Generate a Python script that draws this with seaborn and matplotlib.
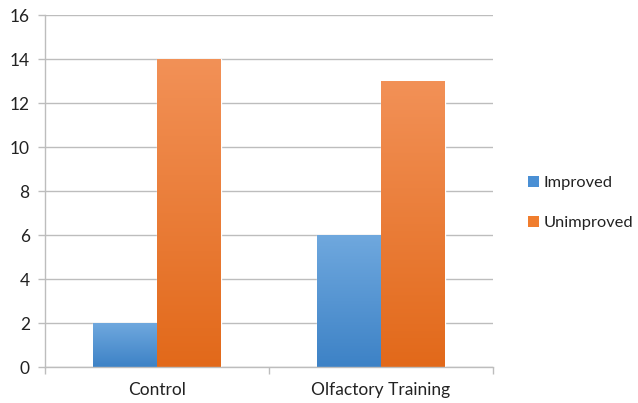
import numpy as np
import pandas as pd
import matplotlib
matplotlib.use("Agg")
import matplotlib.pyplot as plt
from matplotlib.patches import Patch
from matplotlib.colors import LinearSegmentedColormap
import seaborn as sns

categories = ["Control", "Olfactory Training"]
series = ["Improved", "Unimproved"]
improved = [2, 6]
unimproved = [14, 13]
y_ticks = [0, 2, 4, 6, 8, 10, 12, 14, 16]

colors = {"Improved": "#4A8FD4", "Unimproved": "#F07D2E"}
grad = {
    "Improved": ("#3D82C6", "#6FA8DE"),     # bottom, top
    "Unimproved": ("#E2691A", "#F29157"),
}

df = pd.DataFrame({
    "group": categories * 2,
    "status": [series[0]] * 2 + [series[1]] * 2,
    "count": improved + unimproved,
})

sns.set_theme(style="white")
plt.rcParams["font.family"] = ["Lato", "DejaVu Sans"]

fig = plt.figure(figsize=(6.38, 4.03), dpi=100)
ax = fig.add_axes([45 / 638, 1 - 367 / 403, (493 - 45) / 638, (367 - 15) / 403])

sns.barplot(data=df, x="group", y="count", hue="status", order=categories,
            hue_order=series, palette=colors, width=0.57, ax=ax,
            legend=False, errorbar=None, saturation=1)

ax.set_xlim(-0.5, 1.5)
ax.set_ylim(0, 16)

# vertical gradient fill inside each bar
bar_patches = [p for p in ax.patches if p.get_height() > 0]
for p in bar_patches:
    x0, w, h = p.get_x(), p.get_width(), p.get_height()
    fc = p.get_facecolor()
    key = min(series, key=lambda s: np.sum((np.array(matplotlib.colors.to_rgba(colors[s])) - np.array(fc)) ** 2))
    cmap = LinearSegmentedColormap.from_list(key, list(grad[key]))
    img = np.linspace(0, 1, 256).reshape(-1, 1)
    im = ax.imshow(img, cmap=cmap, origin="lower", aspect="auto",
                   extent=(x0, x0 + w, 0, h), zorder=p.get_zorder() + 0.1)
    im.set_clip_path(p)
ax.set_xlim(-0.5, 1.5)
ax.set_ylim(0, 16)

grid_c = "#BDBDBD"
ax.set_yticks(y_ticks)
ax.yaxis.grid(True, color=grid_c, linewidth=1.0)
ax.xaxis.grid(False)
ax.set_axisbelow(True)

for side in ["top", "right"]:
    ax.spines[side].set_visible(False)
for side in ["left", "bottom"]:
    ax.spines[side].set_color(grid_c)
    ax.spines[side].set_linewidth(1.0)

ax.tick_params(axis="y", which="major", left=True, length=5, width=1,
               color=grid_c, labelsize=12.5, labelcolor="#222222", pad=6)
ax.tick_params(axis="x", which="major", bottom=False, length=0,
               labelsize=12.5, labelcolor="#222222", pad=11)
ax.set_xticks([-0.5, 0.5, 1.5], minor=True)
ax.tick_params(axis="x", which="minor", bottom=True, length=5, width=1,
               color=grid_c)
ax.set_xlabel("")
ax.set_ylabel("")

handles = [Patch(facecolor=colors[s], edgecolor="none", label=s) for s in series]
fig.legend(handles=handles, loc="center left", bbox_to_anchor=(528 / 638, 1 - 203 / 403),
           frameon=False, borderpad=0, borderaxespad=0,
           handlelength=0.65, handleheight=0.65, handletextpad=0.3,
           labelspacing=1.55, fontsize=11.8, labelcolor="#222222")

fig.savefig("out.png", dpi=100)
